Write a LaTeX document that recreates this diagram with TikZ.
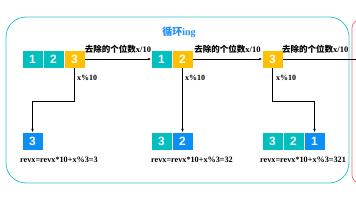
\documentclass[tikz,border=0pt]{standalone}
\usepackage{fontspec}
\setmainfont{Liberation Serif}
\newfontfamily\cjk{Noto Sans CJK SC}
\newfontfamily\digitfont{Liberation Sans}
\usetikzlibrary{arrows.meta,positioning}
\definecolor{Teal}{HTML}{00BFBF}
\definecolor{Gold}{HTML}{FFC000}
\definecolor{Sky}{HTML}{0A90F5}
\definecolor{TitleBlue}{HTML}{1E90FF}
\definecolor{Frame}{HTML}{33C6CC}
\definecolor{RedFrame}{HTML}{FF6060}

\begin{document}
\begin{tikzpicture}[
  x=1pt,y=-1pt,
  digit/.style={minimum width=21pt,minimum height=18pt,inner sep=0pt,draw=white,line width=0.4pt,text=white,font=\digitfont\fontsize{12}{12}\selectfont\bfseries},
  tealbox/.style={digit,fill=Teal},
  goldbox/.style={digit,fill=Gold},
  skybox/.style={digit,fill=Sky},
  cut/.style={font=\fontsize{8.5}{9}\selectfont\bfseries,inner sep=1pt},
  mod/.style={anchor=west,font=\fontsize{8}{9}\selectfont\bfseries,inner sep=0pt},
  result/.style={anchor=west,font=\fontsize{8.2}{9}\selectfont\bfseries,inner sep=0pt},
  link/.style={line width=0.7pt,-{Stealth[length=3pt,width=2.5pt]}}
]
  \useasboundingbox (0,0) rectangle (356,200);

  % frames
  \draw[Frame,line width=0.8pt,rounded corners=20pt] (6,17) rectangle (349,183);
  \draw[RedFrame,line width=0.7pt,rounded corners=8pt] (352,20) rectangle (390,183);

  \node[font=\fontsize{10}{10}\selectfont\bfseries,text=TitleBlue] (title) at (179,32) {{\cjk 循环}ing};

  % x = 123
  \node[tealbox] (a1) at (32.5,59) {1};
  \node[tealbox] (a2) at (53.5,59) {2};
  \node[goldbox] (a3) at (74.5,59) {3};

  % x = 12
  \node[tealbox] (b1) at (161.5,59) {1};
  \node[goldbox] (b2) at (182.5,59) {2};

  % x = 3
  \node[goldbox] (c1) at (272.5,59) {3};
  \coordinate (cend) at (356,59);

  \draw[link] (a3.east) -- node[cut,above=4pt] (cuta) {{\cjk 去除的个位数}x/10} (b1.west);
  \draw[link] (b2.east) -- node[cut,above=4pt] (cutb) {{\cjk 去除的个位数}x/10} (c1.west);
  \draw[line width=0.7pt] (c1.east) -- node[cut,above=4pt,pos=0.44] (cutc) {{\cjk 去除的个位数}x/10} (cend);

  \node[mod] (moda) at (77,78) {x\%10};
  \node[mod] (modb) at (185,78) {x\%10};
  \node[mod] (modc) at (276,78) {x\%10};

  % revx
  \node[skybox] (r1) at (32.5,141) {3};

  \node[tealbox] (s1) at (161.5,141) {3};
  \node[skybox] (s2) at (182.5,141) {2};

  \node[tealbox] (t1) at (272.5,141) {3};
  \node[tealbox] (t2) at (293.5,141) {2};
  \node[skybox] (t3) at (314.5,141) {1};

  \draw[link] (a3.south) -- ++(0,33) -| (r1.north);
  \draw[link] (b2.south) -- (s2.north);
  \draw[link] (c1.south) -- ++(0,33) -| (t3.north);

  \node[result] (resa) at (20,160) {revx=revx*10+x\%3=3};
  \node[result] (resb) at (151,160) {revx=revx*10+x\%3=32};
  \node[result] (resc) at (260,160) {revx=revx*10+x\%3=321};
\end{tikzpicture}
\end{document}
